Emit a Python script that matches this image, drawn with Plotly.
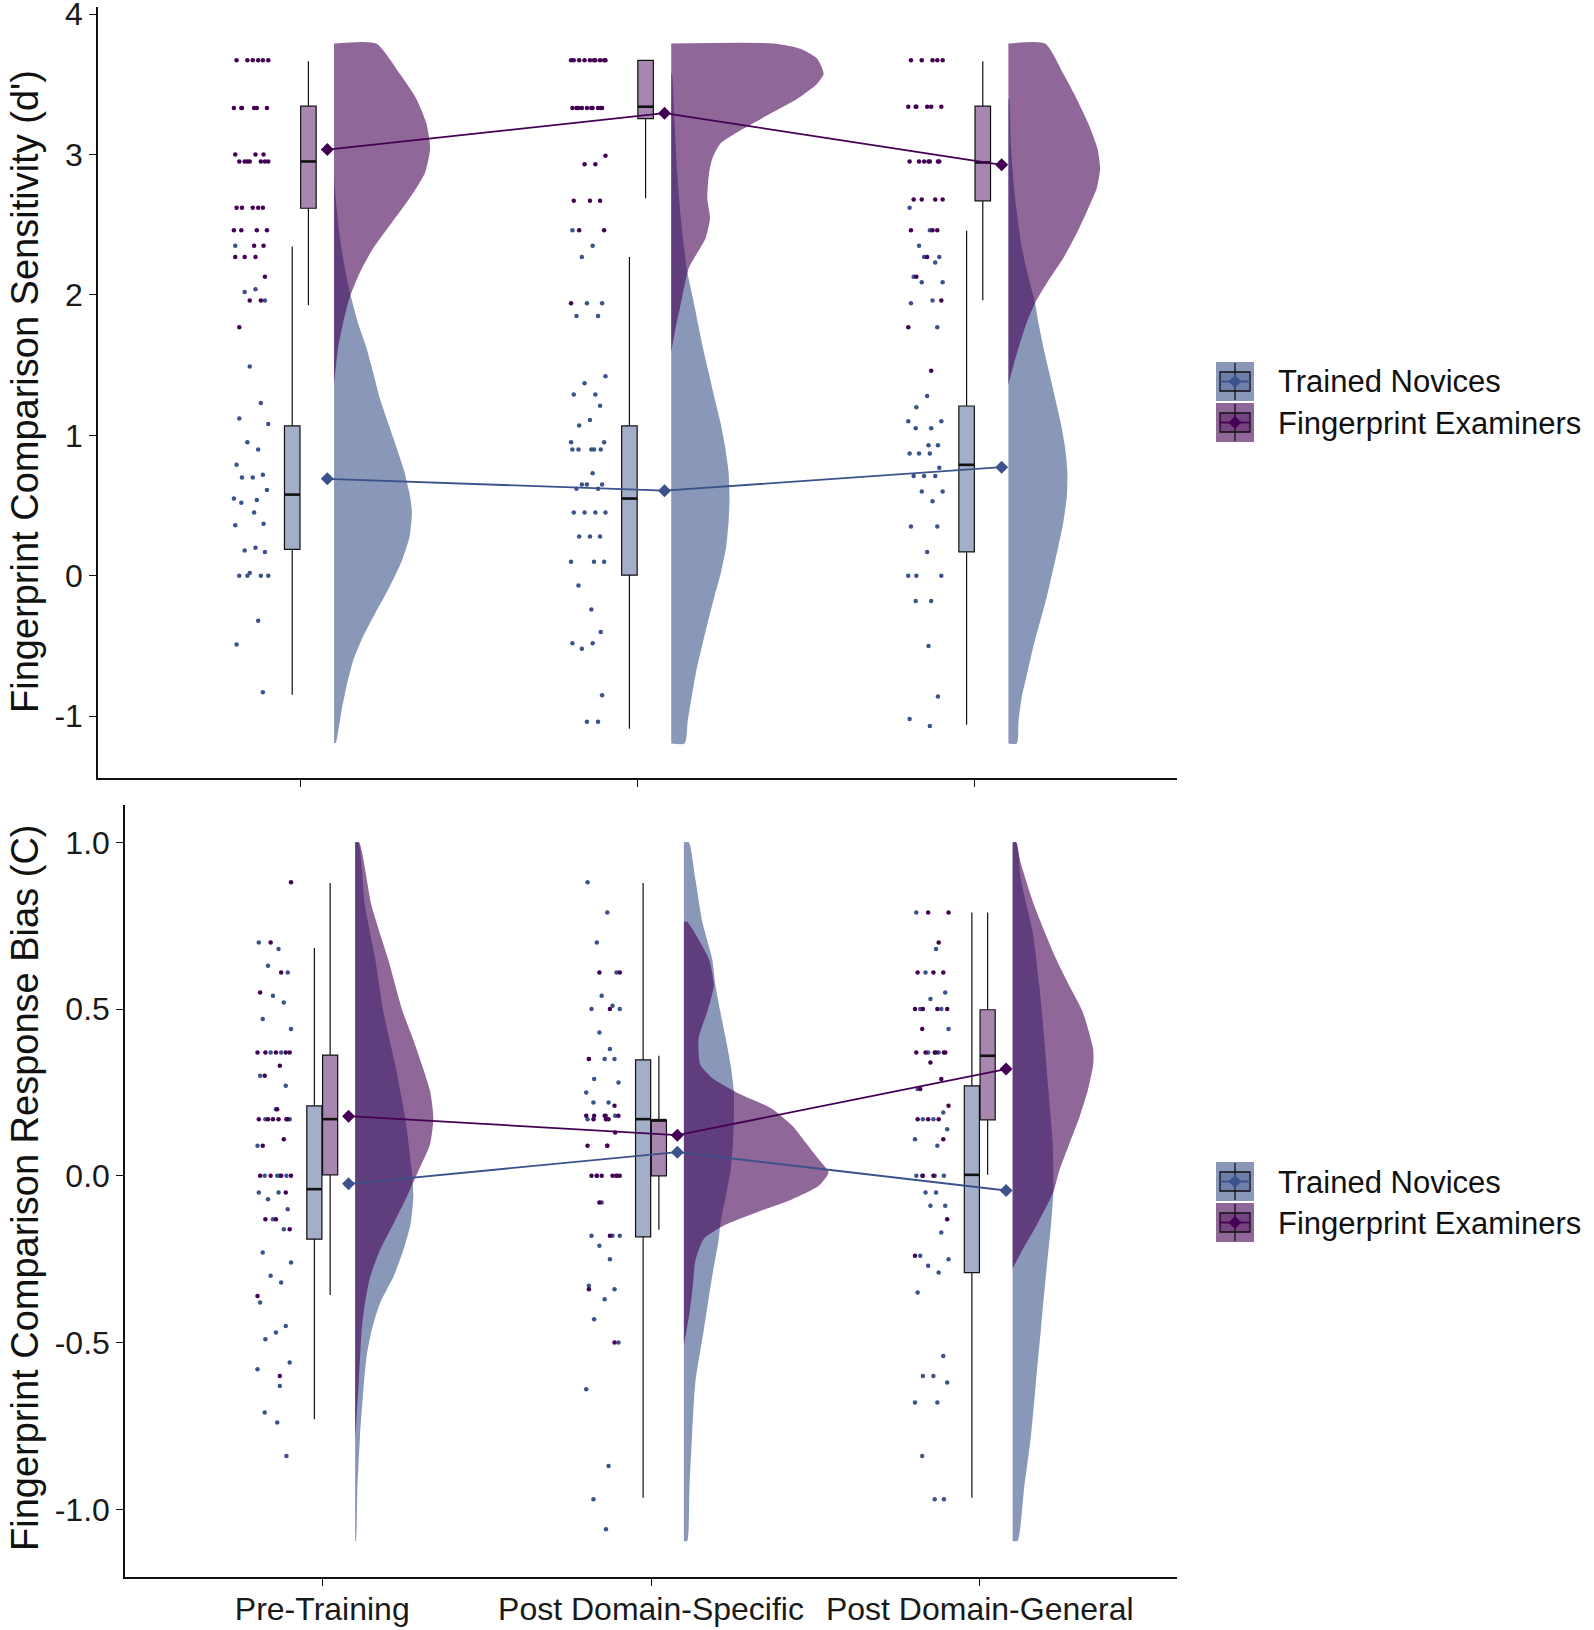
import plotly.graph_objects as go

W, H = 1594, 1630
FONT = "Liberation Sans, Arial, sans-serif"

# ---------------- data ----------------
times = [1, 2, 3]
time_labels = ["Pre-Training", "Post Domain-Specific", "Post Domain-General"]
groups = ["Trained Novices", "Fingerprint Examiners"]

# ---- Top panel: sensitivity (d') ----
d_nov_q1 = [0.188, 0.004, 0.17]
d_nov_med = [0.578, 0.55, 0.79]
d_nov_q3 = [1.067, 1.067, 1.209]
d_nov_lo = [-0.848, -1.09, -1.06]
d_nov_hi = [2.344, 2.27, 2.457]
d_exa_q1 = [2.617, 3.255, 2.67]
d_exa_med = [2.95, 3.34, 2.943]
d_exa_q3 = [3.344, 3.67, 3.344]
d_exa_lo = [1.926, 2.688, 1.961]
d_exa_hi = [3.663, 3.67, 3.663]
d_nov_mean = [0.69, 0.606, 0.773]
d_exa_mean = [3.035, 3.294, 2.926]

d_pre_exa = [3.67, 3.67, 3.67, 3.67, 3.67, 3.67, 3.33, 3.33, 3.33, 3.33, 3.33, 3.33,
             3.00, 3.00, 3.00, 2.95, 2.95, 2.95, 2.95, 2.95, 2.95, 2.95,
             2.62, 2.62, 2.62, 2.62, 2.62, 2.46, 2.46, 2.46, 2.46, 2.35, 2.35,
             2.27, 2.27, 2.27, 2.13, 1.96, 1.96, 1.77]
d_pre_nov = [2.35, 2.04, 2.02, 1.96, 1.49, 1.23, 1.12, 1.08, 0.95, 0.90, 0.79, 0.72,
             0.70, 0.70, 0.61, 0.55, 0.54, 0.52, 0.45, 0.37, 0.36, 0.20, 0.18, 0.17,
             0.02, 0.00, 0.00, 0.00, 0.00, -0.32, -0.49, -0.83]
d_ds_exa = [3.67, 3.67, 3.67, 3.67, 3.67, 3.67, 3.67, 3.67, 3.67, 3.67,
            3.33, 3.33, 3.33, 3.33, 3.33, 3.33, 3.33, 3.33, 3.33, 3.33,
            2.99, 2.93, 2.93, 2.67, 2.67, 2.67, 2.46, 2.46, 1.94]
d_ds_nov = [2.46, 2.35, 2.27, 1.94, 1.94, 1.85, 1.85, 1.42, 1.37, 1.29, 1.29, 1.21,
            1.11, 1.07, 0.95, 0.95, 0.90, 0.90, 0.90, 0.90, 0.90, 0.73, 0.65, 0.65,
            0.65, 0.62, 0.62, 0.45, 0.45, 0.45, 0.45, 0.28, 0.28, 0.28, 0.10, 0.10,
            0.10, -0.07, -0.24, -0.40, -0.48, -0.48, -0.52, -0.85, -1.04, -1.04]
d_dg_exa = [3.67, 3.67, 3.67, 3.67, 3.67, 3.34, 3.34, 3.34, 3.34, 3.34, 3.34,
            2.95, 2.95, 2.95, 2.95, 2.95, 2.95, 2.95, 2.68, 2.68, 2.68, 2.68,
            2.46, 2.46, 2.46, 2.27, 2.13, 1.96, 1.77, 1.46]
d_dg_nov = [2.62, 2.46, 2.35, 2.27, 2.27, 2.23, 2.13, 2.09, 2.09, 1.96, 1.94, 1.77,
            1.28, 1.20, 1.10, 1.10, 1.05, 1.05, 0.93, 0.93, 0.87, 0.87, 0.87, 0.77,
            0.71, 0.71, 0.71, 0.60, 0.60, 0.53, 0.35, 0.35, 0.17, 0.00, 0.00, 0.00,
            -0.18, -0.18, -0.50, -0.86, -1.02, -1.07]

d_pre_nov_vy = [2.865, 2.688, 2.511, 2.333, 2.156, 1.979, 1.80, 1.624, 1.447, 1.27, 1.092,
                0.915, 0.738, 0.56, 0.454, 0.277, 0.099, -0.078, -0.255, -0.433, -0.61,
                -0.787, -0.965, -1.19]
d_pre_nov_vd = [0.0, 0.005, 0.012, 0.022, 0.035, 0.051, 0.071, 0.096, 0.116, 0.135, 0.160,
                0.185, 0.209, 0.226, 0.231, 0.224, 0.200, 0.165, 0.125, 0.086, 0.056,
                0.037, 0.022, 0.005]
d_pre_exa_vy = [3.79, 3.574, 3.397, 3.22, 3.043, 2.865, 2.688, 2.511, 2.333, 2.156, 1.979,
                1.80, 1.624, 1.36]
d_pre_exa_vd = [0.125, 0.195, 0.244, 0.274, 0.285, 0.269, 0.224, 0.170, 0.116, 0.076, 0.046,
                0.027, 0.012, 0.0]
d_ds_nov_vy = [3.574, 3.22, 2.865, 2.511, 2.174, 1.979, 1.80, 1.624, 1.447, 1.27, 1.092,
               0.915, 0.738, 0.56, 0.383, 0.206, 0.028, -0.149, -0.326, -0.504, -0.681,
               -0.858, -1.035, -1.195]
d_ds_nov_vd = [0.002, 0.01, 0.018, 0.03, 0.047, 0.064, 0.079, 0.094, 0.111, 0.128, 0.146,
               0.16, 0.17, 0.173, 0.17, 0.163, 0.148, 0.128, 0.109, 0.091, 0.074,
               0.061, 0.049, 0.04]
d_ds_exa_vy = [3.79, 3.752, 3.681, 3.574, 3.504, 3.397, 3.291, 3.184, 3.078, 2.972, 2.865,
               2.688, 2.546, 2.404, 2.298, 2.191, 2.05, 1.908, 1.766, 1.589]
d_ds_exa_vd = [0.304, 0.383, 0.433, 0.452, 0.433, 0.374, 0.294, 0.215, 0.146, 0.122, 0.112,
               0.107, 0.115, 0.102, 0.077, 0.052, 0.038, 0.026, 0.013, 0.0]
d_dg_nov_vy = [3.397, 3.043, 2.688, 2.333, 2.121, 1.943, 1.801, 1.624, 1.447, 1.27, 1.092,
               0.915, 0.738, 0.56, 0.383, 0.206, 0.028, -0.149, -0.326, -0.504, -0.681,
               -0.858, -1.035, -1.195]
d_dg_nov_vd = [0.002, 0.008, 0.02, 0.04, 0.06, 0.079, 0.089, 0.104, 0.121, 0.138, 0.155,
               0.168, 0.175, 0.173, 0.163, 0.148, 0.131, 0.114, 0.094, 0.074, 0.057,
               0.04, 0.03, 0.025]
d_dg_exa_vy = [3.79, 3.574, 3.397, 3.22, 3.043, 2.901, 2.759, 2.617, 2.44, 2.262, 2.085,
               1.943, 1.801, 1.624, 1.482, 1.358]
d_dg_exa_vd = [0.109, 0.163, 0.202, 0.237, 0.264, 0.272, 0.262, 0.237, 0.203, 0.163, 0.114,
               0.079, 0.054, 0.030, 0.013, 0.0]

# ---- Bottom panel: response bias (C) ----
c_nov_q1 = [-0.19, -0.183, -0.29]
c_nov_med = [-0.04, 0.17, 0.003]
c_nov_q3 = [0.21, 0.348, 0.27]
c_nov_lo = [-0.73, -0.965, -0.965]
c_nov_hi = [0.683, 0.878, 0.79]
c_exa_q1 = [0.003, 0.0, 0.168]
c_exa_med = [0.17, 0.167, 0.36]
c_exa_q3 = [0.362, 0.167, 0.498]
c_exa_lo = [-0.357, -0.162, 0.003]
c_exa_hi = [0.878, 0.36, 0.79]
c_nov_mean = [-0.024, 0.071, -0.044]
c_exa_mean = [0.179, 0.122, 0.32]

c_pre_exa = [0.88, 0.70, 0.61, 0.55, 0.37, 0.37, 0.37, 0.37, 0.37, 0.33, 0.30, 0.20,
             0.17, 0.17, 0.17, 0.17, 0.17, 0.17, 0.11, 0.09, 0.00, 0.00, 0.00, 0.00,
             -0.05, -0.13, -0.13, -0.16, -0.36, -0.60]
c_pre_nov = [0.70, 0.68, 0.63, 0.61, 0.54, 0.52, 0.47, 0.44, 0.37, 0.37, 0.30, 0.27,
             0.20, 0.17, 0.17, 0.09, 0.00, 0.00, 0.00, 0.00, -0.05, -0.05, -0.07, -0.10,
             -0.13, -0.16, -0.23, -0.26, -0.30, -0.32, -0.38, -0.45, -0.47, -0.49,
             -0.56, -0.58, -0.63, -0.71, -0.74, -0.84]
c_ds_exa = [0.61, 0.61, 0.50, 0.35, 0.21, 0.18, 0.18, 0.18, 0.18, 0.17, 0.17, 0.17,
            0.13, 0.09, 0.09, 0.00, 0.00, 0.00, 0.00, 0.00, 0.00, -0.08, -0.18, -0.34, -0.50]
c_ds_nov = [0.88, 0.79, 0.70, 0.61, 0.54, 0.51, 0.50, 0.50, 0.43, 0.38, 0.35, 0.35,
            0.35, 0.29, 0.28, 0.25, 0.22, 0.22, 0.18, 0.18, 0.17, 0.09, 0.00, 0.00,
            -0.08, -0.18, -0.18, -0.18, -0.21, -0.25, -0.33, -0.34, -0.37, -0.43,
            -0.50, -0.64, -0.87, -0.97, -1.06]
c_dg_exa = [0.79, 0.79, 0.70, 0.61, 0.61, 0.61, 0.50, 0.50, 0.50, 0.50, 0.44,
            0.37, 0.37, 0.37, 0.37, 0.37, 0.37, 0.34, 0.29, 0.26, 0.21, 0.17, 0.17,
            0.17, 0.11, 0.00, 0.00, -0.13, -0.24]
c_dg_nov = [0.79, 0.68, 0.61, 0.55, 0.53, 0.50, 0.50, 0.44, 0.37, 0.37, 0.26, 0.19,
            0.17, 0.17, 0.14, 0.11, 0.09, 0.00, 0.00, 0.00, 0.00, -0.05, -0.05, -0.09,
            -0.09, -0.17, -0.24, -0.25, -0.27, -0.29, -0.35, -0.54, -0.60, -0.60,
            -0.62, -0.68, -0.68, -0.84, -0.97, -0.97]

c_pre_nov_vy = [1.0, 0.81, 0.651, 0.492, 0.333, 0.175, 0.016, -0.063, -0.143, -0.222,
                -0.302, -0.381, -0.46, -0.54, -0.619, -0.778, -0.937, -1.095]
c_pre_nov_vd = [0.01, 0.03, 0.061, 0.086, 0.122, 0.152, 0.172, 0.177, 0.169, 0.147,
                0.117, 0.076, 0.051, 0.035, 0.027, 0.015, 0.007, 0.002]
c_pre_exa_vy = [1.0, 0.81, 0.651, 0.492, 0.413, 0.333, 0.254, 0.175, 0.095, 0.016, -0.063,
                -0.143, -0.222, -0.302, -0.381, -0.46, -0.619, -0.794]
c_pre_exa_vd = [0.012, 0.05, 0.1, 0.145, 0.175, 0.203, 0.228, 0.238, 0.228, 0.193, 0.157,
                0.117, 0.076, 0.046, 0.03, 0.02, 0.011, 0.0]
c_ds_nov_vy = [1.0, 0.889, 0.762, 0.651, 0.571, 0.492, 0.413, 0.333, 0.254, 0.175, 0.095,
               0.016, -0.063, -0.143, -0.19, -0.302, -0.46, -0.619, -0.778, -0.937, -1.095]
c_ds_nov_vd = [0.015, 0.035, 0.056, 0.086, 0.096, 0.111, 0.127, 0.142, 0.152, 0.152, 0.149,
               0.142, 0.127, 0.111, 0.106, 0.086, 0.061, 0.035, 0.025, 0.017, 0.01]
c_ds_exa_vy = [0.762, 0.70, 0.651, 0.571, 0.492, 0.413, 0.333, 0.29, 0.25, 0.20, 0.15, 0.10,
               0.05, 0.01, -0.03, -0.07, -0.11, -0.15, -0.19, -0.254, -0.333, -0.413, -0.508]
c_ds_exa_vd = [0.01, 0.05, 0.076, 0.091, 0.071, 0.045, 0.05, 0.09, 0.16, 0.27, 0.33, 0.37,
               0.41, 0.44, 0.41, 0.33, 0.22, 0.12, 0.06, 0.035, 0.027, 0.017, 0.0]
c_dg_nov_vy = [1.0, 0.889, 0.73, 0.571, 0.413, 0.254, 0.095, -0.048, -0.143, -0.302, -0.46,
               -0.619, -0.778, -0.937, -1.095]
c_dg_nov_vd = [0.012, 0.025, 0.061, 0.081, 0.096, 0.109, 0.122, 0.124, 0.117, 0.101, 0.086,
               0.071, 0.056, 0.035, 0.015]
c_dg_exa_vy = [1.0, 0.937, 0.81, 0.651, 0.571, 0.492, 0.38, 0.333, 0.254, 0.175, 0.095,
               0.016, -0.048, -0.143, -0.222, -0.278]
c_dg_exa_vd = [0.01, 0.025, 0.066, 0.132, 0.172, 0.213, 0.245, 0.245, 0.228, 0.203, 0.172,
               0.142, 0.124, 0.076, 0.03, 0.0]

# ---------------- style ----------------
NOV = (59, 82, 139)
EXA = (68, 1, 84)


def rgba(c, a):
    return "rgba(%d,%d,%d,%s)" % (c[0], c[1], c[2], a)


def hexc(c):
    return "#%02x%02x%02x" % c


VIOLIN_A = 0.6
BOX_A = 0.47
VIOLIN_OFF = 0.10
MEAN_OFF = 0.08
BOX_OFF = 0.024
BOX_W = 0.046
DOT_OFF = -0.145
JIT = [-0.048, 0.012, -0.02, 0.04, -0.005, 0.028, -0.036, 0.05, -0.012, 0.02,
       -0.044, 0.034, 0.004, -0.028, 0.046, -0.052, 0.016, -0.03, 0.008, 0.036]

fig = go.Figure()


def add_violin(t, vy, vd, col, xa, ya):
    base = t + VIOLIN_OFF
    xs = [base] + [base + d for d in vd] + [base]
    ys = [vy[0]] + list(vy) + [vy[-1]]
    fig.add_trace(go.Scatter(x=xs, y=ys, mode="lines", fill="toself",
                             fillcolor=rgba(col, VIOLIN_A),
                             line=dict(width=0, shape="spline", smoothing=0.6),
                             hoverinfo="skip", xaxis=xa, yaxis=ya))


def add_dots(t, vals, col, xa, ya, start):
    xs = [t + DOT_OFF + JIT[(start + i) % len(JIT)] for i in range(len(vals))]
    fig.add_trace(go.Scatter(x=xs, y=vals, mode="markers",
                             marker=dict(size=4.5, color=hexc(col), line=dict(width=0)),
                             hoverinfo="skip", xaxis=xa, yaxis=ya))


def add_box(offset, q1, med, q3, lo, hi, col, xa, ya):
    fig.add_trace(go.Box(x=[t + offset for t in times], q1=q1, median=med, q3=q3,
                         lowerfence=lo, upperfence=hi, width=BOX_W,
                         fillcolor=rgba(col, BOX_A), line=dict(color="#111111", width=1.2),
                         whiskerwidth=0, boxpoints=False, hoverinfo="skip",
                         xaxis=xa, yaxis=ya))
    mx, my = [], []
    for t, m in zip(times, med):
        mx += [t + offset - BOX_W / 2, t + offset + BOX_W / 2, None]
        my += [m, m, None]
    fig.add_trace(go.Scatter(x=mx, y=my, mode="lines", line=dict(color="#111111", width=2.6),
                             hoverinfo="skip", xaxis=xa, yaxis=ya))


def add_mean(means, col, xa, ya):
    fig.add_trace(go.Scatter(x=[t + MEAN_OFF for t in times], y=means, mode="lines+markers",
                             line=dict(color=hexc(col), width=1.8),
                             marker=dict(symbol="diamond", size=10, color=hexc(col)),
                             hoverinfo="skip", xaxis=xa, yaxis=ya))


top_nov_v = [(d_pre_nov_vy, d_pre_nov_vd), (d_ds_nov_vy, d_ds_nov_vd), (d_dg_nov_vy, d_dg_nov_vd)]
top_exa_v = [(d_pre_exa_vy, d_pre_exa_vd), (d_ds_exa_vy, d_ds_exa_vd), (d_dg_exa_vy, d_dg_exa_vd)]
bot_nov_v = [(c_pre_nov_vy, c_pre_nov_vd), (c_ds_nov_vy, c_ds_nov_vd), (c_dg_nov_vy, c_dg_nov_vd)]
bot_exa_v = [(c_pre_exa_vy, c_pre_exa_vd), (c_ds_exa_vy, c_ds_exa_vd), (c_dg_exa_vy, c_dg_exa_vd)]
top_nov_p = [d_pre_nov, d_ds_nov, d_dg_nov]
top_exa_p = [d_pre_exa, d_ds_exa, d_dg_exa]
bot_nov_p = [c_pre_nov, c_ds_nov, c_dg_nov]
bot_exa_p = [c_pre_exa, c_ds_exa, c_dg_exa]

panels = [
    ("x", "y", top_nov_v, top_exa_v, top_nov_p, top_exa_p,
     (d_nov_q1, d_nov_med, d_nov_q3, d_nov_lo, d_nov_hi),
     (d_exa_q1, d_exa_med, d_exa_q3, d_exa_lo, d_exa_hi), d_nov_mean, d_exa_mean),
    ("x2", "y2", bot_nov_v, bot_exa_v, bot_nov_p, bot_exa_p,
     (c_nov_q1, c_nov_med, c_nov_q3, c_nov_lo, c_nov_hi),
     (c_exa_q1, c_exa_med, c_exa_q3, c_exa_lo, c_exa_hi), c_nov_mean, c_exa_mean),
]

for xa, ya, nv, ev, npnt, epnt, nb, eb, nm, em in panels:
    for t, (vy, vd) in zip(times, nv):
        add_violin(t, vy, vd, NOV, xa, ya)
    for t, (vy, vd) in zip(times, ev):
        add_violin(t, vy, vd, EXA, xa, ya)
    for t, vals in zip(times, npnt):
        add_dots(t, vals, NOV, xa, ya, 0)
    for t, vals in zip(times, epnt):
        add_dots(t, vals, EXA, xa, ya, 7)
    add_box(-BOX_OFF, *nb, NOV, xa, ya)
    add_box(BOX_OFF, *eb, EXA, xa, ya)
    add_mean(nm, NOV, xa, ya)
    add_mean(em, EXA, xa, ya)


def px(x):
    return min(1.0, max(0.0, x / W))


def py(y):
    return min(1.0, max(0.0, 1 - y / H))


axis_common = dict(showline=True, linecolor="#111111", linewidth=1.5, ticks="outside",
                   ticklen=7, tickwidth=1.3, tickcolor="#111111", showgrid=False,
                   zeroline=False, ticklabeloverflow="allow", automargin=False,
                   tickfont=dict(family=FONT, size=32, color="#1a1a1a"))

fig.update_layout(
    width=W, height=H, margin=dict(l=0, r=0, t=0, b=0, autoexpand=False),
    paper_bgcolor="white", plot_bgcolor="white", showlegend=False,
    boxmode="overlay",
    xaxis=dict(domain=[px(98), px(1177)], range=[0.4, 3.6], tickvals=times,
               showticklabels=False, anchor="y", **axis_common),
    yaxis=dict(domain=[py(778), py(7)], range=[-1.44, 4.05], tickvals=[-1, 0, 1, 2, 3, 4],
               ticktext=["-1", "0", "1", "2", "3", "4"], anchor="x", **axis_common),
    xaxis2=dict(domain=[px(125), px(1177)], range=[0.4, 3.6], tickvals=times,
                ticktext=time_labels, anchor="y2", ticklabelstandoff=-4, **axis_common),
    yaxis2=dict(domain=[py(1577), py(805)], range=[-1.203, 1.112],
                tickvals=[-1, -0.5, 0, 0.5, 1], ticktext=["-1.0", "-0.5", "0.0", "0.5", "1.0"],
                anchor="x2", **axis_common),
)

annotations = [
    dict(text="Fingerprint Comparison Sensitivity (d')", x=px(25), y=py(392), xref="paper",
         yref="paper", textangle=-90, showarrow=False, xanchor="center", yanchor="middle",
         font=dict(family=FONT, size=38, color="#111111")),
    dict(text="Fingerprint Comparison Response Bias (C)", x=px(25), y=py(1188), xref="paper",
         yref="paper", textangle=-90, showarrow=False, xanchor="center", yanchor="middle",
         font=dict(family=FONT, size=38, color="#111111")),
]

shapes = []


def legend_key(y0, col):
    x0, x1 = 1216, 1254
    y1 = y0 + 39
    cx = (x0 + x1) / 2
    cy = (y0 + y1) / 2
    shapes.append(dict(type="rect", xref="paper", yref="paper", x0=px(x0), x1=px(x1),
                       y0=py(y1), y1=py(y0), fillcolor=rgba(col, VIOLIN_A), line=dict(width=0)))
    shapes.append(dict(type="line", xref="paper", yref="paper", x0=px(cx), x1=px(cx),
                       y0=py(y0 + 1), y1=py(y1 - 1), line=dict(color="#111111", width=1.3)))
    shapes.append(dict(type="rect", xref="paper", yref="paper", x0=px(x0 + 4), x1=px(x1 - 4),
                       y0=py(cy + 9.5), y1=py(cy - 9.5), fillcolor=rgba(col, 0.35),
                       line=dict(color="#111111", width=1.3)))
    shapes.append(dict(type="line", xref="paper", yref="paper", x0=px(x0 + 4), x1=px(x1 - 4),
                       y0=py(cy), y1=py(cy), line=dict(color=hexc(col), width=1.8)))
    path = "M %f,%f L %f,%f L %f,%f L %f,%f Z" % (
        px(cx - 6.5), py(cy), px(cx), py(cy - 6.5), px(cx + 6.5), py(cy), px(cx), py(cy + 6.5))
    shapes.append(dict(type="path", xref="paper", yref="paper", path=path,
                       fillcolor=hexc(col), line=dict(width=0)))


legend_tops = [362, 1162]
for lt in legend_tops:
    for k, (g, col) in enumerate(zip(groups, [NOV, EXA])):
        y0 = lt + k * 41
        legend_key(y0, col)
        annotations.append(dict(text=g, x=px(1276), y=py(y0 + 20), xref="paper", yref="paper",
                                showarrow=False, xanchor="left", yanchor="middle",
                                font=dict(family=FONT, size=31, color="#111111")))

fig.update_layout(annotations=annotations, shapes=shapes)
# the figure fills the whole 1594x1630 page (no default 8px body margin)
fig.write_html("out.html", config={"displayModeBar": False},
               post_script="document.body.style.margin='0px';")
